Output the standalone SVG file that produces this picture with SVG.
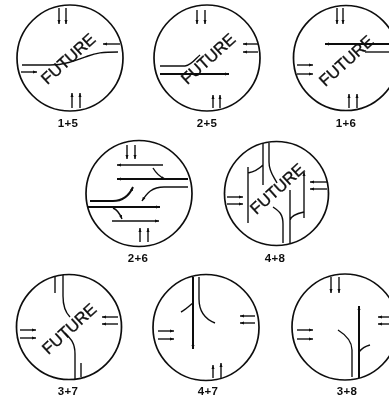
<svg xmlns="http://www.w3.org/2000/svg" width="389" height="400" viewBox="0 0 389 400">
<defs>
<marker id="a" markerUnits="userSpaceOnUse" markerWidth="6" markerHeight="5" refX="4" refY="2.5" orient="auto"><path d="M0 1L4 2.5L0 4Z" style="fill:#111;stroke:none"/></marker>
<filter id="b" x="-5%" y="-5%" width="110%" height="110%"><feGaussianBlur stdDeviation="0.35"/></filter>
</defs>
<style>
circle{fill:none;stroke:#111;stroke-width:1.7}
path{fill:none;stroke:#111;stroke-width:1.4}
.h{stroke-width:2}
.m{marker-end:url(#a)}
text{font-family:"Liberation Sans",sans-serif;fill:#111}
.f{font-size:16.5px;letter-spacing:-.1px;text-anchor:middle;stroke:#111;stroke-width:.35}
.l{font-size:11.5px;font-weight:bold;letter-spacing:.4px;text-anchor:middle}
</style>
<rect width="389" height="400" fill="#fff"/>
<g filter="url(#b)">
<g id="n15"><circle cx="70" cy="58" r="53"/>
<text class="f" transform="translate(72 63) rotate(-42)">FUTURE</text><text class="l" x="68" y="127">1+5</text></g>
<g id="n25"><circle cx="207" cy="58" r="53"/>
<text class="f" transform="translate(212 63) rotate(-42)">FUTURE</text><text class="l" x="207" y="127">2+5</text></g>
<g id="n16"><circle cx="346" cy="58" r="52.5"/>
<text class="f" transform="translate(350 65) rotate(-42)">FUTURE</text><text class="l" x="346" y="127">1+6</text></g>
<g id="n26"><circle cx="139" cy="193.5" r="53"/><text class="l" x="138" y="262">2+6</text></g>
<g id="n48"><circle cx="276.5" cy="193.5" r="52"/>
<text class="f" transform="translate(281 193) rotate(-42)">FUTURE</text><text class="l" x="275" y="262">4+8</text></g>
<g id="n37"><circle cx="69" cy="327" r="52.5"/>
<text class="f" transform="translate(73 333) rotate(-42)">FUTURE</text><text class="l" x="68" y="395">3+7</text></g>
<g id="n47"><circle cx="206" cy="327.5" r="53"/><text class="l" x="208" y="395">4+7</text></g>
<g id="n38"><circle cx="345" cy="327" r="53"/><text class="l" x="347" y="395">3+8</text></g>
<g id="connectors">
<!-- 1+5 -->
<path d="M22 65H50C65 65 77 60 88 56C96 53 102 52 118 52"/>
<path class="m" d="M59 8V24"/><path class="m" d="M66 8V24"/><path class="m" d="M72 108V93"/><path class="m" d="M80 108V93"/><path class="m" d="M120 44H103"/><path class="m" d="M21 72H37"/>
<!-- 2+5 -->
<path d="M160 66H185C192 65 196 58 200 55"/>
<path class="h m" d="M160 74H229"/>
<path class="m" d="M197 10V24"/><path class="m" d="M205 10V24"/><path class="m" d="M213 108V95"/><path class="m" d="M220 108V95"/><path class="m" d="M258 44H243"/><path class="m" d="M258 52H243"/>
<!-- 1+6 -->
<path class="h m" d="M389 44H325"/>
<path d="M365 52H389"/>
<path class="m" d="M297 65H313"/><path class="m" d="M297 74H313"/><path class="m" d="M337 8V24"/><path class="m" d="M343 8V24"/><path class="m" d="M349 108V94"/><path class="m" d="M357 108V94"/>
<!-- 2+6 -->
<path class="m" d="M163 165H117"/><path class="h m" d="M188 179H117"/><path class="m" d="M127 145V159"/><path class="m" d="M135 145V159"/><path class="m" d="M140 242V228"/><path class="m" d="M148 242V228"/>
<path class="m" d="M153 168C156 173 160 177 165 179"/>
<path class="m" d="M188 187H164C152 187 147 193 142 201"/>
<path class="h m" d="M90 201H113C122 201 129 196 133 187"/>
<path class="h m" d="M88 207H160"/>
<path class="m" d="M113 208C118 210 120 214 122 219"/>
<path class="m" d="M112 221H159"/>
<!-- 4+8 -->
<path d="M263 143V185M263 165C258 170 253 172 248 173M248 167V223M269 143V162C269 172 274 177 277 183M273 207C279 211 283 214 283 224V243M290 190V243M290 220C291 216 295 214 304 212"/>
<path class="m" d="M304 218V172"/>
<path class="m" d="M227 197H243"/><path class="m" d="M227 204H243"/><path class="m" d="M327 182H310"/><path class="m" d="M327 189H310"/>
<!-- 3+7 -->
<path d="M55 277V293M63 275V296C63 307 66 313 70 317M65 333C71 339 75 343 75 354V379M81 377V363"/>
<path class="m" d="M20 330H36"/><path class="m" d="M20 338H36"/><path class="m" d="M118 317H102"/><path class="m" d="M118 324H102"/>
<!-- 4+7 -->
<path d="M199 277V299C199 311 205 319 215 323M193 303C189 306 185 310 181 312"/>
<path class="h m" d="M193 277V349"/>
<path class="m" d="M158 331H174"/><path class="m" d="M158 339H174"/><path class="m" d="M255 316H240"/><path class="m" d="M255 323H240"/><path class="m" d="M213 378V365"/><path class="m" d="M221 378V363"/>
<!-- 3+8 -->
<path class="m" d="M331 277V293"/><path class="m" d="M339 277V293"/>
<path class="h m" d="M359 378V306"/>
<path d="M352 377V350C352 342 346 335 338 330M359 352C362 348 366 346 370 345"/>
<path class="m" d="M297 330H313"/><path class="m" d="M297 339H313"/><path class="m" d="M389 317H378"/><path class="m" d="M389 324H378"/>
</g>
</g>
</svg>
